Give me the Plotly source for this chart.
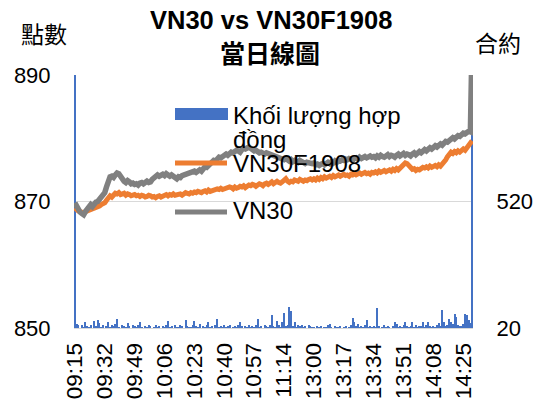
import plotly.graph_objects as go

# ---- categories (trading minutes) ----
morning = [f"{m // 60:02d}:{m % 60:02d}" for m in range(9 * 60 + 15, 11 * 60 + 31)]
afternoon = [f"{m // 60:02d}:{m % 60:02d}" for m in range(13 * 60, 14 * 60 + 31)]
times = morning + afternoon
tick_labels = times[::17]

# ---- series values ----
volume = [
    1600, 34, 30, 18, 32, 24, 44, 26, 22, 30, 20, 48, 28, 52, 38, 24, 30,
    20, 26, 44, 22, 30, 28, 34, 56, 24, 20, 30, 26, 22, 40, 28, 20, 32,
    26, 22, 30, 44, 24, 20, 28, 22, 30, 26, 20, 24, 32, 22, 26, 20, 28,
    24, 30, 48, 22, 26, 20, 32, 24, 22, 30, 26, 20, 52, 28, 24, 22, 30,
    48, 26, 22, 34, 20, 28, 24, 30, 44, 22, 26, 20, 30, 56, 24, 28, 22,
    30, 22, 26, 32, 20, 24, 28, 22, 30, 44, 26, 20, 28, 24, 32, 22, 26,
    24, 30, 56, 22, 28, 20, 32, 26, 24, 30, 72, 26, 22, 48, 30, 24, 44,
    80, 26, 30, 104, 88, 28, 44, 22, 30, 26, 32, 24, 28, 20, 30, 26, 22,
    24, 20, 28, 22, 26, 20, 24, 22, 30, 36, 24, 20, 26, 22, 24, 28, 20,
    22, 26, 20, 24, 30, 60, 44, 28, 34, 22, 26, 24, 30, 52, 22, 26, 24,
    28, 22, 100, 26, 20, 24, 30, 22, 28, 24, 20, 26, 44, 36, 22, 28, 24,
    30, 44, 26, 22, 28, 44, 24, 30, 22, 26, 28, 44, 24, 30, 44, 26, 22,
    28, 24, 30, 40, 26, 92, 44, 28, 30, 56, 44, 36, 76, 64, 30, 26, 28,
    34, 76, 72, 52, 40, 1200,
]

vn30f = [
    869.0, 868.7, 868.5, 868.4, 868.3, 868.2, 868.4, 868.5, 868.6, 868.8, 868.7, 868.9, 868.9, 869.1, 869.3, 869.5, 869.6,
    869.8, 870.2, 870.6, 870.9, 870.7, 871.0, 871.3, 871.2, 871.4, 871.1, 871.2, 871.3, 871.0, 871.2, 871.1, 870.9, 871.0,
    871.1, 870.9, 871.0, 870.8, 871.0, 870.9, 870.7, 870.8, 871.0, 870.9, 870.7, 870.8, 870.6, 870.8, 870.9, 870.7, 870.9,
    871.0, 871.1, 870.9, 871.1, 871.0, 871.2, 871.0, 871.1, 871.3, 871.2, 871.0, 871.2, 871.4, 871.3, 871.2, 871.4, 871.3,
    871.5, 871.4, 871.6, 871.5, 871.4, 871.6, 871.7, 871.5, 871.8, 871.6, 871.7, 871.9, 871.8, 872.0, 871.9, 872.1, 871.9,
    872.0, 872.2, 872.1, 872.3, 872.2, 872.0, 872.3, 872.1, 872.2, 872.4, 872.3, 872.5, 872.2, 872.4, 872.6, 872.5, 872.7,
    872.6, 872.4, 872.6, 872.8, 872.7, 872.5, 872.8, 872.9, 872.7, 872.9, 873.1, 872.8, 873.0, 873.2, 873.0, 872.9, 873.1,
    873.3, 873.6, 873.2, 873.0, 873.2, 873.1, 873.4, 873.3, 873.2, 873.5, 873.3, 873.2, 873.4, 873.3, 873.5, 873.6, 873.4,
    873.6, 873.4, 873.7, 873.5, 873.8, 873.6, 873.9, 873.7, 873.8, 874.0, 873.8, 874.1, 873.9, 874.0, 874.2, 874.0, 874.1,
    874.3, 874.1, 874.2, 874.0, 874.3, 874.2, 874.4, 874.2, 874.3, 874.5, 874.3, 874.4, 874.6, 874.4, 874.5, 874.3, 874.6,
    874.5, 874.7, 874.5, 874.8, 874.6, 874.7, 874.9, 874.7, 874.8, 875.0, 874.8, 875.1, 874.9, 875.2, 875.0, 875.3, 875.5,
    875.8, 876.1, 876.0, 875.6, 875.3, 875.1, 875.2, 874.9, 875.1, 875.0, 875.2, 875.4, 875.3, 875.5, 875.3, 875.6, 875.4,
    875.5, 875.7, 875.5, 875.8, 875.6, 875.9, 876.2, 876.6, 877.1, 877.5, 877.8, 877.6, 877.9, 877.7, 878.0, 877.8, 878.1,
    878.3, 878.1, 878.5, 878.9, 879.2, 879.6,
]

vn30 = [
    869.8, 869.2, 868.7, 868.3, 868.1, 867.9, 868.4, 868.9, 869.3, 869.5, 869.2, 869.6, 869.9, 870.0, 870.4, 870.9, 871.0,
    871.4, 872.3, 873.2, 873.9, 874.0, 873.8, 874.2, 874.5, 874.4, 873.9, 873.4, 873.2, 873.0, 873.3, 873.1, 872.8, 872.9,
    872.7, 872.8, 872.6, 872.9, 873.0, 872.8, 872.9, 873.2, 873.0, 873.1, 873.5, 873.7, 873.9, 874.2, 874.0, 874.1, 874.3,
    874.1, 874.4, 874.2, 874.0, 874.2, 873.9, 873.8, 873.6, 873.9, 873.8, 874.1, 874.2, 874.4, 874.3, 874.6, 874.5, 874.7,
    874.8, 874.6, 874.9, 875.0, 874.8, 875.2, 875.5, 875.4, 875.7, 876.0, 876.3, 876.5, 876.4, 876.8, 877.0, 876.9, 877.2,
    877.4, 877.5, 877.3, 877.6, 877.8, 877.7, 877.9, 878.1, 878.0, 877.8, 878.2, 878.4, 878.3, 878.5, 878.6, 878.4, 878.2,
    878.0, 878.1, 877.9, 877.7, 877.8, 877.6, 877.5, 877.7, 877.6, 877.4, 877.2, 877.3, 877.1, 877.0, 876.8, 876.9, 876.7,
    876.6, 876.8, 876.5, 876.4, 876.6, 876.3, 876.5, 876.4, 876.2, 876.5, 876.3, 876.1, 876.0, 876.2, 876.1, 875.9, 876.0,
    876.1, 875.8, 875.9, 875.7, 875.9, 876.0, 875.8, 876.1, 876.2, 876.0, 876.3, 876.1, 876.4, 876.2, 876.5, 876.4, 876.6,
    876.5, 876.7, 876.6, 876.8, 876.7, 876.5, 876.8, 876.9, 876.7, 877.0, 876.8, 876.9, 877.1, 876.9, 877.0, 877.2, 877.0,
    877.1, 876.9, 877.2, 877.0, 877.3, 877.1, 877.0, 877.2, 877.4, 877.1, 877.3, 877.2, 877.0, 877.3, 877.5, 877.2, 877.4,
    877.6, 877.3, 877.5, 877.4, 877.2, 877.5, 877.7, 877.4, 877.6, 877.9, 877.7, 878.0, 878.2, 878.0, 878.3, 878.5, 878.3,
    878.6, 878.8, 878.6, 878.9, 879.1, 878.9, 879.3, 879.5, 879.4, 879.7, 879.9, 880.1, 879.9, 880.2, 880.4, 880.3, 880.6,
    880.8, 880.7, 880.9, 881.1, 881.0, 896.0,
]

series_names = ["Khối lượng hợp", "đồng", "VN30F1908", "VN30"]
title_lines = ["VN30 vs VN30F1908", "當日線圖"]
left_unit, right_unit = "點數", "合約"

assert len(times) == len(volume) == len(vn30f) == len(vn30)

LAT = "Liberation Sans, Arial, Noto Sans CJK TC, sans-serif"
CJK = "Noto Sans CJK TC, Liberation Sans, sans-serif"
BLUE, ORANGE, GRAY = "#4472C4", "#ED7D31", "#808080"

W, H = 542, 400
ML, MR, MT, MB = 74, 69, 75, 72
PW, PH = W - ML - MR, H - MT - MB


def px(x):
    return (x - ML) / PW


def py(y):
    return (H - MB - y) / PH


fig = go.Figure()
fig.add_trace(go.Bar(
    x=times, y=volume, name=series_names[0] + " " + series_names[1], yaxis="y",
    marker=dict(color=BLUE, line=dict(width=0)), width=0.6,
))
fig.add_trace(go.Scatter(
    x=times, y=vn30f, name=series_names[2], yaxis="y2", mode="lines",
    line=dict(color=ORANGE, width=5),
))
fig.add_trace(go.Scatter(
    x=times, y=vn30, name=series_names[3], yaxis="y2", mode="lines",
    line=dict(color=GRAY, width=5.5),
))

ann = []
# title
ann.append(dict(text="<b>" + title_lines[0] + "</b>", x=px(271), y=py(20),
                font=dict(family=LAT, size=25.5)))
ann.append(dict(text="<b>" + title_lines[1] + "</b>", x=px(270), y=py(52),
                font=dict(family=CJK, size=25)))
# unit labels
ann.append(dict(text=left_unit, x=px(44), y=py(33), font=dict(family=CJK, size=23)))
ann.append(dict(text=right_unit, x=px(498), y=py(42), font=dict(family=CJK, size=23)))
# legend texts
leg_font = dict(family=LAT, size=24)
for txt, yy in [(series_names[0], 115), (series_names[1], 139), (series_names[2], 163), (series_names[3], 210)]:
    ann.append(dict(text=txt, x=px(231), y=py(yy), xanchor="left", font=dict(leg_font)))
for a in ann:
    a.setdefault("xanchor", "center")
    a.update(xref="paper", yref="paper", yanchor="middle", showarrow=False)
    a["font"]["color"] = "black"

shapes = [
    dict(type="rect", xref="paper", yref="paper", x0=px(175), x1=px(228), y0=py(120), y1=py(108),
         fillcolor=BLUE, line=dict(width=0), layer="above"),
    dict(type="line", xref="paper", yref="paper", x0=px(175), x1=px(227), y0=py(163), y1=py(163),
         line=dict(color=ORANGE, width=5), layer="above"),
    dict(type="line", xref="paper", yref="paper", x0=px(175), x1=px(227), y0=py(212), y1=py(212),
         line=dict(color=GRAY, width=5), layer="above"),
]

fig.update_layout(
    width=W, height=H,
    margin=dict(l=ML, r=MR, t=MT, b=MB, autoexpand=False),
    paper_bgcolor="white", plot_bgcolor="white",
    font=dict(family=LAT, color="black"),
    showlegend=False,
    bargap=0,
    annotations=ann,
    shapes=shapes,
    xaxis=dict(
        type="category", range=[-0.5, len(times) - 0.5], automargin=False,
        tickmode="array", tickvals=tick_labels, ticktext=tick_labels,
        tickangle=-90, tickfont=dict(size=22.5, family=LAT, color="black"),
        ticks="outside", ticklen=5, tickcolor="rgba(0,0,0,0)",
        showgrid=False, showline=True, linecolor="#D9D9D9", linewidth=1,
        zeroline=False,
    ),
    yaxis=dict(
        side="right", range=[20, 1020], tickmode="array", tickvals=[20, 520],
        automargin=False,
        tickfont=dict(size=22, family=LAT, color="black"), showgrid=False, zeroline=False,
        ticks="outside", ticklen=18, tickcolor="rgba(0,0,0,0)",
    ),
    yaxis2=dict(
        side="left", overlaying="y", range=[850, 890], automargin=False,
        tickmode="array", tickvals=[850, 870, 890],
        tickfont=dict(size=22, family=LAT, color="black"),
        showgrid=True, gridcolor="#D9D9D9", gridwidth=1, zeroline=False,
        ticks="outside", ticklen=18, tickcolor="rgba(0,0,0,0)",
    ),
)

fig.write_html(
    "out.html",
    config={"displayModeBar": False},
    post_script="document.body.style.margin='0';document.body.style.overflow='hidden';",
)
